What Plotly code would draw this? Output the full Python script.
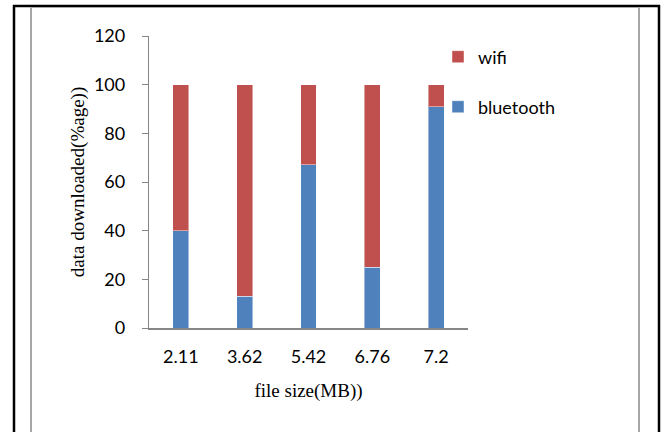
import plotly.graph_objects as go

# ---- data ----
file_sizes = ["2.11", "3.62", "5.42", "6.76", "7.2"]
bluetooth = [40, 13, 67, 25, 91]
wifi = [60, 87, 33, 75, 9]
y_ticks = [0, 20, 40, 60, 80, 100, 120]

W, H = 661, 432
L, R, T, B = 149, 468, 36, 328  # plot area in pixels


def px(x):
    return (x - L) / (R - L)


def py(y):
    return (B - y) / (B - T)


BLUE = "#4F81BD"
RED = "#C0504D"

fig = go.Figure()
fig.add_trace(go.Bar(
    x=file_sizes, y=bluetooth, name="bluetooth", legend="legend2",
    marker=dict(color=BLUE, line=dict(color="rgba(255,255,255,0.45)", width=1)),
))
fig.add_trace(go.Bar(
    x=file_sizes, y=wifi, name="wifi", legend="legend",
    marker=dict(color=RED, line=dict(color="rgba(255,255,255,0.45)", width=1)),
))

tick_font = dict(family="Lato, Open Sans, sans-serif", size=18, color="#000000")
title_font = dict(family="Liberation Serif, Times New Roman, serif", size=19, color="#000000")

shapes = [
    # outer black frame
    dict(type="line", xref="paper", yref="paper", x0=px(14), x1=px(14), y0=py(5), y1=py(440),
         line=dict(color="#000000", width=2.5)),
    dict(type="line", xref="paper", yref="paper", x0=px(13), x1=px(660), y0=py(6), y1=py(6),
         line=dict(color="#000000", width=2.5)),
    dict(type="line", xref="paper", yref="paper", x0=px(659), x1=px(659), y0=py(5), y1=py(440),
         line=dict(color="#000000", width=2.5)),
    # inner gray frame
    dict(type="line", xref="paper", yref="paper", x0=px(31), x1=px(31), y0=py(7.5), y1=py(440),
         line=dict(color="#A6A6A6", width=2)),
    dict(type="line", xref="paper", yref="paper", x0=px(31), x1=px(639), y0=py(7.5), y1=py(7.5),
         line=dict(color="#A6A6A6", width=1)),
    dict(type="line", xref="paper", yref="paper", x0=px(639), x1=px(639), y0=py(7.5), y1=py(440),
         line=dict(color="#A6A6A6", width=2)),
]

fig.update_layout(
    width=W, height=H,
    margin=dict(l=L, r=W - R, t=T, b=H - B, autoexpand=False),
    paper_bgcolor="white", plot_bgcolor="white",
    barmode="stack", bargap=0.75,
    showlegend=True,
    legend=dict(x=px(438), y=py(57), xanchor="left", yanchor="middle",
                font=dict(family="Lato, Open Sans, sans-serif", size=18, color="#000000"),
                bgcolor="rgba(0,0,0,0)"),
    legend2=dict(x=px(438), y=py(107), xanchor="left", yanchor="middle",
                 font=dict(family="Lato, Open Sans, sans-serif", size=18, color="#000000"),
                 bgcolor="rgba(0,0,0,0)"),
    xaxis=dict(
        type="category", showgrid=False, zeroline=False,
        showline=True, linecolor="#868686", linewidth=2,
        ticks="", tickfont=tick_font, ticklabelstandoff=11,
        title=dict(text="file size(MB))", font=title_font, standoff=18),
    ),
    yaxis=dict(
        range=[0, 120], tickvals=y_ticks, showgrid=False, zeroline=False,
        showline=True, linecolor="#868686", linewidth=1.3,
        ticks="outside", ticklen=6, tickcolor="#868686", tickwidth=1.3,
        tickfont=tick_font, ticklabelstandoff=13,
        title=dict(text="data downloaded(%age))", font=title_font, standoff=4),
    ),
    shapes=shapes,
)

fig.write_html(
    "out.html",
    config={"displayModeBar": False},
    post_script="document.body.style.margin='0';document.body.style.padding='0';",
)
